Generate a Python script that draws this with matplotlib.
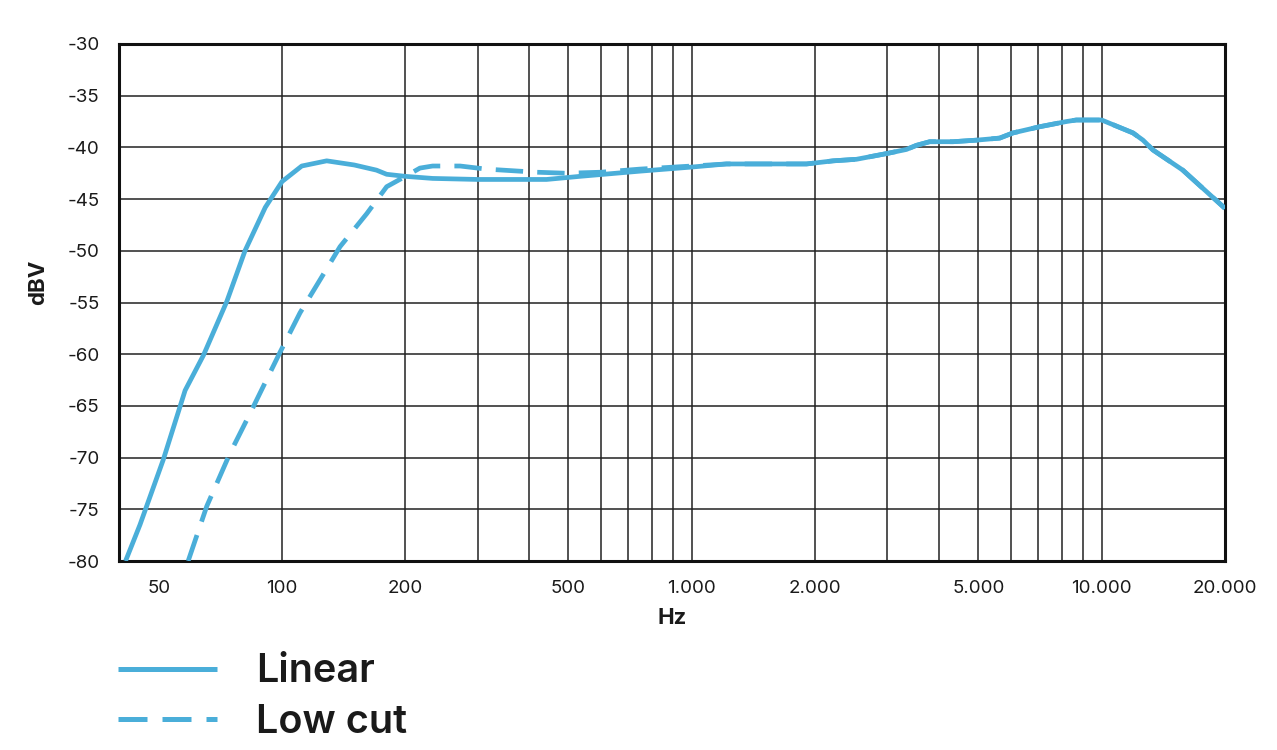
import matplotlib
matplotlib.use("Agg")
import matplotlib.pyplot as plt
from matplotlib.ticker import FixedLocator, NullFormatter

# ---- data ----
freq_linear = [41.5, 45, 51.3, 58, 64.3, 73.3, 81.2, 91, 100, 111.7, 128.5, 150,
               170, 180, 200, 233, 300, 442, 533, 746, 1000, 1215, 1905, 2212,
               2521, 2984, 3338, 3532, 3806, 4339, 4946, 5639, 6076, 7061, 8202,
               8670, 10000, 11926, 12617, 13344, 15780, 20000]
level_linear = [-80, -76.5, -70.2, -63.5, -60.1, -54.9, -50, -45.8, -43.3, -41.8,
                -41.3, -41.7, -42.2, -42.6, -42.8, -43.0, -43.1, -43.1, -42.8,
                -42.3, -41.9, -41.6, -41.6, -41.3, -41.15, -40.6, -40.2, -39.8,
                -39.45, -39.45, -39.3, -39.1, -38.6, -38.0, -37.5, -37.35, -37.35,
                -38.6, -39.3, -40.25, -42.2, -45.9]

freq_lowcut = [59, 65.5, 74.6, 83.6, 98.9, 110.6, 123.8, 138.5, 161, 180, 200,
               217, 233, 272, 315, 418, 495, 600, 746, 1000, 1215, 1905, 2212,
               2521, 2984, 3338, 3532, 3806, 4339, 4946, 5639, 6076, 7061, 8202,
               8670, 10000, 11926, 12617, 13344, 15780, 20000]
level_lowcut = [-80, -74.7, -69.6, -65.7, -59.8, -56.0, -52.8, -49.6, -46.4,
                -43.8, -42.8, -42.0, -41.8, -41.8, -42.1, -42.4, -42.5, -42.4,
                -42.1, -41.8, -41.6, -41.6, -41.3, -41.15, -40.6, -40.2, -39.8,
                -39.45, -39.45, -39.3, -39.1, -38.6, -38.0, -37.5, -37.35, -37.35,
                -38.6, -39.3, -40.25, -42.2, -45.9]

x_ticks = [50, 100, 200, 500, 1000, 2000, 5000, 10000, 20000]
x_ticklabels = ["50", "100", "200", "500", "1.000", "2.000", "5.000", "10.000", "20.000"]
x_gridlines = [100, 200, 300, 400, 500, 600, 700, 800, 900,
               1000, 2000, 3000, 4000, 5000, 6000, 7000, 8000, 9000, 10000]
y_ticks = [-30, -35, -40, -45, -50, -55, -60, -65, -70, -75, -80]
series_labels = ["Linear", "Low cut"]

# ---- style ----
plt.rcParams['font.family'] = ['Inter', 'DejaVu Sans']
color = "#4aaed9"
text_color = "#1a1a1a"

fig = plt.figure(figsize=(12.77, 7.5), dpi=100)
ax = fig.add_axes([119/1277, 1-561/750, (1225-119)/1277, (561-44)/750])

ax.plot(freq_linear, level_linear, color=color, lw=3.4, solid_capstyle='butt',
        solid_joinstyle='round', label=series_labels[0], zorder=3)
ax.plot(freq_lowcut, level_lowcut, color=color, lw=3.4, dashes=(5.8, 3.0),
        label=series_labels[1], zorder=3)

ax.set_xscale('log')
ax.set_xlim(40, 20000)
ax.set_ylim(-80, -30)

ax.xaxis.remove_overlapping_locs = False
ax.xaxis.set_major_locator(FixedLocator(x_ticks))
ax.set_xticklabels(x_ticklabels)
ax.xaxis.set_minor_locator(FixedLocator(x_gridlines))
ax.xaxis.set_minor_formatter(NullFormatter())
ax.set_yticks(y_ticks)
ax.set_yticklabels([str(v) for v in y_ticks])

ax.tick_params(axis='both', which='both', length=0, labelsize=13.5, colors=text_color)
ax.tick_params(axis='x', pad=14)
ax.tick_params(axis='y', pad=14)

ax.grid(False)
ax.xaxis.grid(True, which='minor', color='#222222', lw=1.1)
ax.yaxis.grid(True, which='major', color='#222222', lw=1.1)
ax.set_axisbelow(True)

for s in ax.spines.values():
    s.set_linewidth(2.2)
    s.set_color('#111111')

ax.set_xlabel("Hz", fontsize=16, fontweight='bold', color=text_color)
ax.xaxis.set_label_coords(0.5, -0.09)
ax.set_ylabel("dBV", fontsize=16, fontweight='bold', color=text_color)
ax.yaxis.set_label_coords(-0.064, 0.54)

leg = ax.legend(loc='center left', bbox_to_anchor=(118/1277, 1-697/750),
                bbox_transform=fig.transFigure, frameon=False,
                prop={'size': 28.5, 'weight': 'semibold'},
                handlelength=2.5, handletextpad=0.98, labelspacing=0.33,
                borderpad=0, borderaxespad=0)
for t in leg.get_texts():
    t.set_color(text_color)
for h in leg.get_lines():
    h.set_linewidth(3.6)

fig.savefig("out.png", dpi=100)
